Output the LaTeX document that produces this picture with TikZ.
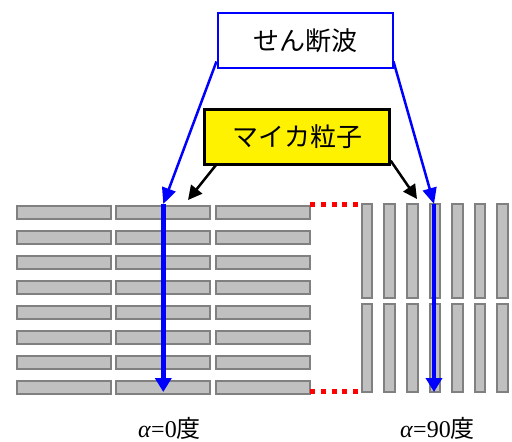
\documentclass[tikz,border=0pt]{standalone}
\usepackage{fontspec}
\setmainfont{Liberation Serif}
\newfontfamily\cjk{Noto Sans CJK JP}
\usetikzlibrary{arrows.meta}
\definecolor{barfill}{HTML}{C0C0C0}
\definecolor{barline}{HTML}{808080}
\tikzset{
  hbar/.style={fill=barfill,draw=barline,line width=2pt},
  bluebox/.style={draw=blue,line width=2pt,fill=white,minimum width=175pt,minimum height=55.5pt,inner sep=0pt,font=\cjk\fontsize{26}{30}\selectfont},
  yellowbox/.style={draw=black,line width=2.5pt,fill=yellow,minimum width=185pt,minimum height=55pt,inner sep=0pt,font=\cjk\fontsize{26}{30}\selectfont},
  bluearrow/.style={draw=blue,line width=2.5pt,-{Triangle[length=16pt,width=14pt]}},
  bigarrow/.style={draw=blue,line width=4.5pt,-{Triangle[length=14pt,width=16pt]}},
  blackarrow/.style={draw=black,line width=2.5pt,-{Triangle[length=14pt,width=14pt]}},
  reddots/.style={draw=red,line width=5pt,dash pattern=on 5pt off 5.8pt},
  anglelabel/.style={font=\fontsize{24}{28}\selectfont,inner sep=0pt}
}
\begin{document}
\begin{tikzpicture}[x=1pt,y=-1pt]
\useasboundingbox (0,0) rectangle (512,442);
% horizontal bars (alpha = 0)
\foreach \k in {0,...,7}{
  \foreach \x in {17,116.3,216}{
    \draw[hbar] (\x,206+25*\k) rectangle ++(94,12.5);
  }
}
% vertical bars (alpha = 90)
\foreach \k in {0,...,6}{
  \draw[hbar] (361.7+22.6*\k,204.3) rectangle ++(10.7,93.4);
  \draw[hbar] (361.7+22.6*\k,303.7) rectangle ++(10.7,88.6);
}
% red dotted connectors
\coordinate (rt1) at (310,204.2);
\coordinate (rt2) at (358,204.2);
\coordinate (rb1) at (310,391.5);
\coordinate (rb2) at (358,391.5);
\draw[reddots] (rt1) -- (rt2);
\draw[reddots] (rb1) -- (rb2);
% boxes
\node[bluebox] (shear) at (305,40.7) {せん断波};
\node[yellowbox] (mica) at (297,137) {マイカ粒子};
% arrow end points
\coordinate (lt) at (163.3,204);
\coordinate (lb) at (163.3,392);
\coordinate (rtop) at (434,204);
\coordinate (rbot) at (434,392);
\coordinate (bl) at (188,200);
\coordinate (br) at (417,199);
% arrows
\draw[bluearrow] ([yshift=8pt]shear.south west) -- (lt);
\draw[bluearrow] ([yshift=8pt]shear.south east) -- (rtop);
\draw[bigarrow] (lt) -- (lb);
\draw[bigarrow] (rtop) -- (rbot);
\draw[blackarrow] ([xshift=13pt,yshift=1pt]mica.south west) -- (bl);
\draw[blackarrow] ([yshift=5pt]mica.south east) -- (br);
% labels
\node[anglelabel] (a0) at (169.5,428) {\textit{α}=0{\cjk 度}};
\node[anglelabel] (a90) at (437.5,428) {\textit{α}=90{\cjk 度}};
\end{tikzpicture}
\end{document}
